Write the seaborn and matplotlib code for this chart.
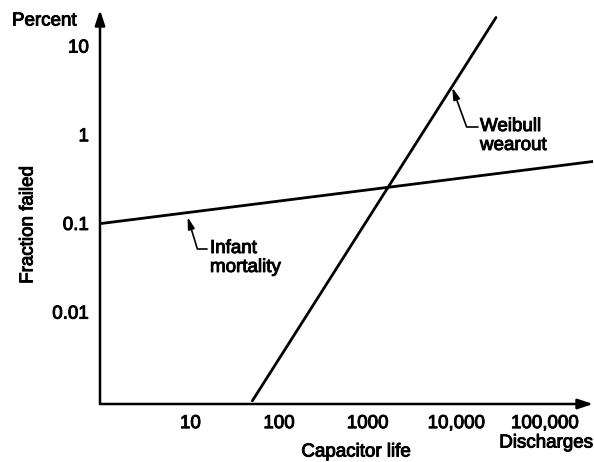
import matplotlib
matplotlib.use("Agg")
import matplotlib.pyplot as plt
import matplotlib.patheffects as pe
import seaborn as sns
import pandas as pd

# data (log-log)
infant_x = [1, 350000]
infant_y = [0.1, 0.5]
weibull_x = [50, 28000]
weibull_y = [0.001, 21]

x_ticks = [10, 100, 1000, 10000, 100000]
x_labels = ["10", "100", "1000", "10,000", "100,000"]
y_ticks = [0.01, 0.1, 1, 10]
y_labels = ["0.01", "0.1", "1", "10"]

df = pd.concat([
    pd.DataFrame({"life": infant_x, "frac": infant_y, "mode": "Infant mortality"}),
    pd.DataFrame({"life": weibull_x, "frac": weibull_y, "mode": "Weibull wearout"}),
])

sns.set_style("white")
plt.rcParams["font.family"] = ["Liberation Sans", "DejaVu Sans"]
plt.rcParams["text.color"] = "black"
FS = 13.5
# slightly heavier than regular, like the scanned original
heavy = [pe.withStroke(linewidth=0.7, foreground="black")]

W, H = 594, 462
fig = plt.figure(figsize=(W / 100, H / 100), dpi=100)
ax = fig.add_axes([100 / W, (H - 404) / H, 493 / W, 394 / H])

sns.lineplot(data=df, x="life", y="frac", units="mode", estimator=None,
             color="black", lw=2.0, ax=ax, legend=False)
ax.set_xscale("log")
ax.set_yscale("log")
ax.set_xlim(0.955, 348000)
ax.set_ylim(0.00092, 25.5)

ax.set_xticks(x_ticks)
ax.set_xticklabels(x_labels)
ax.set_yticks(y_ticks)
ax.set_yticklabels(y_labels)
ax.minorticks_off()
ax.tick_params(direction="in", length=11, width=1.0, colors="black",
               labelsize=FS, pad=8)
ax.set_xlabel("")
ax.set_ylabel("")
for lab in ax.get_xticklabels() + ax.get_yticklabels():
    lab.set_path_effects(heavy)

for s in ax.spines.values():
    s.set_visible(False)
# axis lines with arrowheads
arrow_kw = dict(arrowstyle="-|>,head_length=0.9,head_width=0.3", color="black",
                lw=1.8, shrinkA=0, shrinkB=0)
ax.annotate("", xy=(1, 0), xytext=(0, 0), xycoords="axes fraction",
            arrowprops=arrow_kw, annotation_clip=False)
ax.annotate("", xy=(0, 1), xytext=(0, 0), xycoords="axes fraction",
            arrowprops=arrow_kw, annotation_clip=False)

# callouts
call_kw = dict(arrowstyle="-|>,head_length=0.7,head_width=0.2", color="black",
               lw=1.2, shrinkA=0, shrinkB=0)
ax.annotate("", xy=(9.3, 0.118), xycoords="data",
            xytext=(207, H - 249), textcoords="figure pixels",
            arrowprops=dict(connectionstyle="angle,angleA=0,angleB=-73,rad=0", **call_kw))
ax.annotate("", xy=(9000, 3.4), xycoords="data",
            xytext=(478, H - 127), textcoords="figure pixels",
            arrowprops=dict(connectionstyle="angle,angleA=0,angleB=-70,rad=0", **call_kw))

txt = dict(fontsize=FS, path_effects=heavy)
fig.text(210 / W, (H - 240) / H, "Infant\nmortality", ha="left", va="top",
         linespacing=1.15, **txt)
fig.text(480 / W, (H - 118) / H, "Weibull\nwearout", ha="left", va="top",
         linespacing=1.15, **txt)

fig.text(12 / W, (H - 21) / H, "Percent", ha="left", va="center", **txt)
fig.text(28 / W, (H - 225) / H, "Fraction failed", ha="center", va="center",
         rotation=90, **txt)
fig.text(356 / W, (H - 452) / H, "Capacitor life", ha="center", va="center", **txt)
fig.text(546 / W, (H - 443) / H, "Discharges", ha="center", va="center", **txt)

fig.savefig("out.png", dpi=100)
